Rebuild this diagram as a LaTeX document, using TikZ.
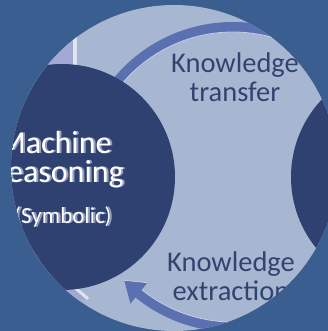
\documentclass[tikz,border=0pt]{standalone}
\usepackage{fontspec}
\setmainfont{Carlito}
\usetikzlibrary{calc}
\definecolor{bgblue}{RGB}{59,94,145}
\definecolor{lightfill}{RGB}{168,183,209}
\definecolor{darkfill}{RGB}{46,65,112}
\definecolor{bandfill}{RGB}{91,112,176}
\definecolor{lavfill}{RGB}{163,168,210}
\definecolor{stripfill}{RGB}{222,228,240}
\definecolor{darktext}{RGB}{50,67,112}
\definecolor{shadowtext}{RGB}{150,158,190}
\definecolor{glow}{RGB}{196,205,230}
\newcommand{\shtext}[1]{\makebox[0pt][l]{\hspace*{2pt}\raisebox{-0.7pt}{\textcolor{shadowtext}{#1}}}#1}
\tikzset{
  labeltext/.style={font=\fontsize{28.5}{29}\selectfont, text=darktext, inner sep=0pt, anchor=base},
  circletext/.style={font=\fontsize{32}{30}\selectfont, text=white, inner sep=0pt, anchor=base},
  smallsize/.style={font=\fontsize{23}{24}\selectfont},
  bigdisc/.style={circle, fill=darkfill, minimum size=226pt, inner sep=0pt},
  glowline/.style={draw=glow, line width=0.8pt}
}
\begin{document}
\begin{tikzpicture}[x=1pt,y=-1pt]
\fill[bgblue] (0,0) rectangle (328,331);
\useasboundingbox (0,0) rectangle (328,331);
\coordinate (ctr) at (233,177);
\begin{scope}
  \clip (174,168) circle (163pt);
  \fill[lightfill] (0,0) rectangle (328,331);
  % lavender pieces of neighbouring shapes
  \fill[lavfill] (0,0) rectangle (73,100);
  \fill[stripfill] (73,0) rectangle (76.5,100);
  \fill[lavfill] (-25,204.7) -- (87.1,300) -- (-25,300) -- cycle;
  \fill[stripfill] (-25,204.7) -- (87.1,300) -- (89.0,297.7) -- (-23.1,202.4) -- cycle;
  % top band (Knowledge transfer)
  \begin{scope}
    \clip (-10,-10) rectangle (480,177);
    \fill[bandfill, even odd rule] (ctr) circle (155pt) (ctr) circle (145pt);
    \draw[glowline] (ctr) circle (145pt);
  \end{scope}
  % bottom arrow (Knowledge extraction)
  \begin{scope}
    \clip (ctr) -- +(40:400) -- +(90:400) -- +(129:400) -- cycle;
    \fill[bandfill, even odd rule] (ctr) circle (155pt) (ctr) circle (145pt);
    \draw[glowline] (ctr) circle (145pt);
  \end{scope}
  \coordinate (tip) at ($(ctr)+(136.5:150)$);
  \coordinate (barbout) at ($(ctr)+(129:163)$);
  \coordinate (barbin) at ($(ctr)+(129:136)$);
  \fill[bandfill] (tip) -- (barbout) -- (barbin) -- cycle;
  \draw[glowline] (tip) -- (barbin);
  % dark circles
  \node[bigdisc] (mr) at (62,177) {};
  \node[bigdisc] (other) at (404,177) {};
  % texts
  \node[labeltext] (kt1) at (235,72.7) {Knowledge};
  \node[labeltext] (kt2) at (235,101.7) {transfer};
  \node[labeltext] (ke1) at (231,271.7) {Knowledge};
  \node[labeltext] (ke2) at (231,300) {extraction};
  \node[circletext] (mr1) at (55,153) {\shtext{Machine}};
  \node[circletext] (mr2) at (57,182) {\shtext{Reasoning}};
  \node[circletext, smallsize] (mr3) at (63,223) {\shtext{(Symbolic)}};
\end{scope}
\end{tikzpicture}
\end{document}
